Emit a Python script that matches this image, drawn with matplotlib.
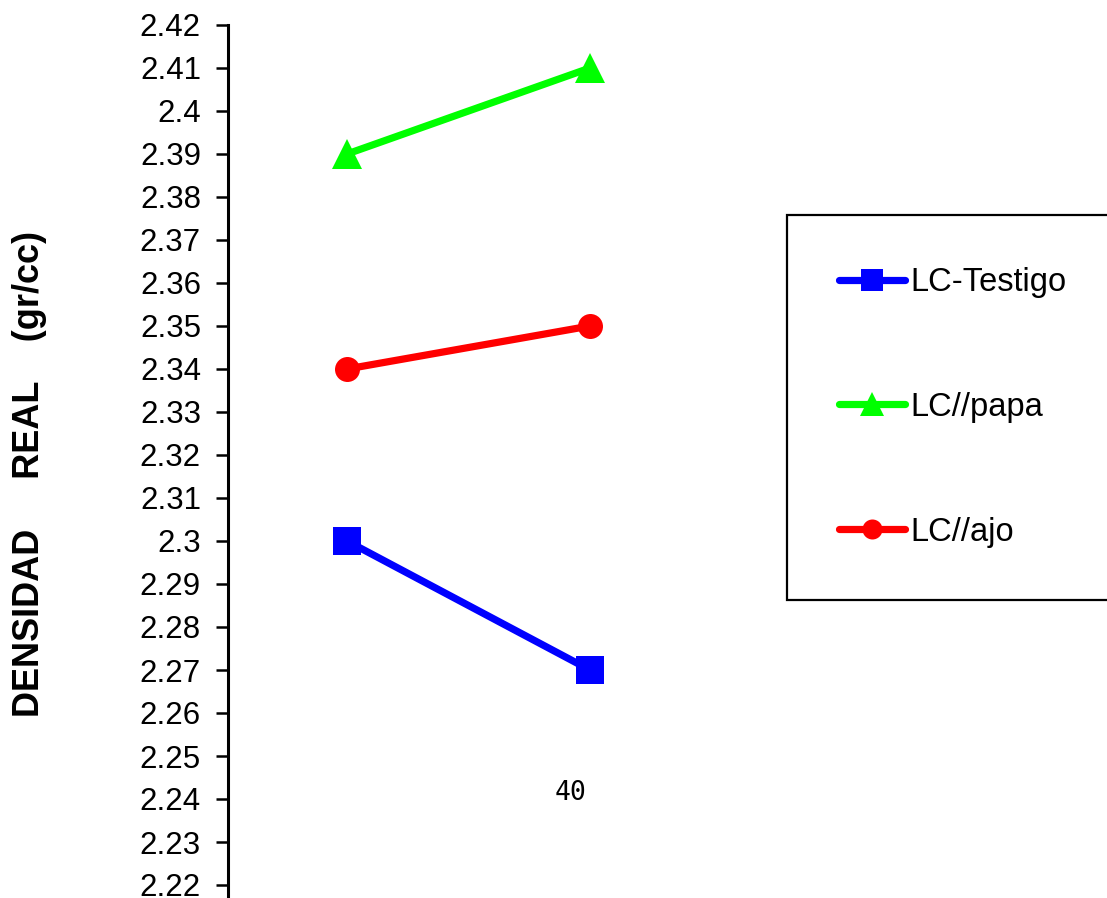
import matplotlib
matplotlib.use("Agg")
import matplotlib.pyplot as plt
import numpy as np

plt.rcParams['font.family'] = ['Liberation Sans', 'DejaVu Sans']

# --- data ---
x_pos = [0, 1]
series_names = ['LC-Testigo', 'LC//papa', 'LC//ajo']
testigo = [2.30, 2.27]
papa = [2.39, 2.41]
ajo = [2.34, 2.35]
y_ticks = np.round(np.arange(2.22, 2.4201, 0.01), 2)

W, H = 1107, 898
fig = plt.figure(figsize=(W / 100, H / 100), dpi=100)
fig.patch.set_facecolor('white')

# axes: left spine at x=228px, 2.42 at y=25px, 2.22 at y=885px
ax = fig.add_axes([228 / W, 0, 1 - 228 / W, 1 - 25 / H])
px_per_unit = (885 - 25) / 0.2
ax.set_ylim(2.22 - (H - 885) / px_per_unit, 2.42)
ax.set_xlim((228 - 347) / 243, (W - 347) / 243)

styles = [
    dict(color='#0000FF', marker='s', ms=20),
    dict(color='#00FF00', marker='^', ms=21.5),
    dict(color='#FF0000', marker='o', ms=18),
]
for name, vals, st in zip(series_names, [testigo, papa, ajo], styles):
    ax.plot(x_pos, vals, label=name, lw=5.2, solid_capstyle='round',
            markeredgewidth=0, **st)

for s in ['top', 'right', 'bottom']:
    ax.spines[s].set_visible(False)
ax.spines['left'].set_linewidth(2.2)
ax.set_yticks(y_ticks)
ax.set_yticklabels([f'{v:g}' for v in y_ticks])
ax.tick_params(axis='y', direction='out', length=8.5, width=1.8, pad=11,
               labelsize=22.5)
ax.set_xticks([])

# category label under the lines
ax.text((571 - 347) / 243, 2.42 - (793 - 25) / px_per_unit, '40',
        ha='center', va='center', fontsize=19, family='DejaVu Sans Mono')

fig.text(30 / W, 1 - 474 / H, 'DENSIDAD     REAL    (gr/cc)',
         rotation=90, ha='center', va='center', fontsize=26,
         fontweight='bold')

leg = ax.legend(loc='upper left', mode='expand',
                bbox_to_anchor=(787 / W, 0, (W + 30 - 787) / W, 1 - 215 / H),
                bbox_transform=fig.transFigure, fontsize=23.5,
                frameon=True, fancybox=False, framealpha=1,
                edgecolor='black', borderpad=1.6, labelspacing=2.87,
                handlelength=2.0, handletextpad=0.18, numpoints=1,
                markerscale=0.8, borderaxespad=0)
leg.get_frame().set_linewidth(1.6)

fig.savefig('out.png', dpi=100, facecolor='white')
